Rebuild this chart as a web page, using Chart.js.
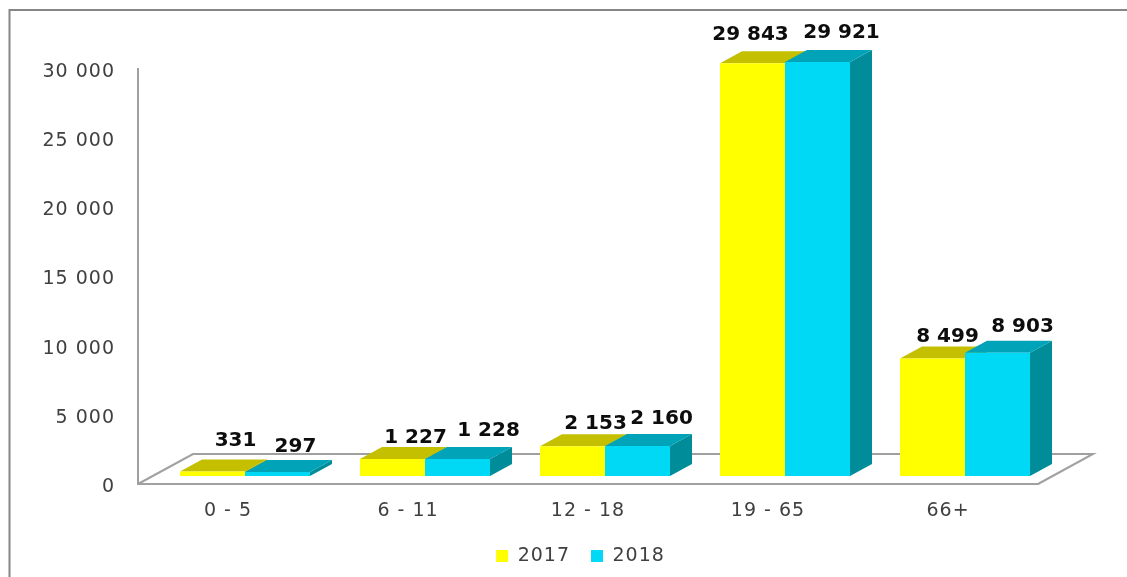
<!DOCTYPE html>
<html>
<head>
<meta charset="utf-8">
<title>Chart</title>
<style>
    html, body { margin: 0; padding: 0; background: #ffffff; overflow: hidden; }
    canvas { display: block; }
</style>
<script src="https://cdn.jsdelivr.net/npm/chart.js@4/dist/chart.umd.min.js"></script>
</head>
<body>
<canvas id="chart" width="1127" height="577"></canvas>
<script>
const categories = ['0 - 5', '6 - 11', '12 - 18', '19 - 65', '66+'];
const values2017 = [331, 1227, 2153, 29843, 8499];
const values2018 = [297, 1228, 2160, 29921, 8903];
const seriesNames = ['2017', '2018'];

const TEXT_FONT = 'DejaVu Sans';
const TEXT_SPACING = '1px'; // the reference text is stretched sideways

// 3D look: bars sit shifted on the floor, and have a small depth
const BAR_SHIFT = { x: 17, y: -8 };
const BAR_DEPTH = { x: 22, y: -12 };
const FLOOR_DEPTH = { x: 55, y: -30 };

const faces = [
    { top: '#c4c000', side: '#a5a200' },
    { top: '#00a3b8', side: '#008c99' }
];

// hand placed value labels in the reference, relative to the bar top centre
const labelNudge = [
    [[23, -31], [23, -21], [23, -22], [-2, -28], [15, -22]],
    [[18, -25], [31, -28], [24, -27], [24, -29], [25, -26]]
];

function formatNumber(val) {
    return String(val).replace(/\B(?=(\d{3})+$)/g, ' ');
}

const look3d = {
    id: 'look3d',
    beforeUpdate(chart) { chart.ctx.letterSpacing = TEXT_SPACING; },
    afterLayout(chart) {
        // the legend sits off centre and lower than the layout would put it
        chart.legend.left += 61.5;
        chart.legend.right += 61.5;
        chart.legend.top = 525.5;
    },
    beforeDraw(chart) {
        const { ctx, chartArea: a } = chart;
        ctx.letterSpacing = TEXT_SPACING;

        // outer frame, only top and left are in the picture
        ctx.save();
        ctx.strokeStyle = '#868686';
        ctx.lineWidth = 2;
        ctx.beginPath();
        ctx.moveTo(9.5, chart.height);
        ctx.lineTo(9.5, 10);
        ctx.lineTo(chart.width, 10);
        ctx.stroke();

        // floor
        ctx.strokeStyle = '#a0a0a0';
        ctx.beginPath();
        ctx.moveTo(a.left, a.bottom);
        ctx.lineTo(a.left + FLOOR_DEPTH.x, a.bottom + FLOOR_DEPTH.y);
        ctx.lineTo(a.right + FLOOR_DEPTH.x, a.bottom + FLOOR_DEPTH.y);
        ctx.lineTo(a.right, a.bottom);
        ctx.stroke();
        ctx.restore();
    },
    beforeDatasetsDraw(chart) {
        const ctx = chart.ctx;
        ctx.save();
        ctx.translate(BAR_SHIFT.x, BAR_SHIFT.y);

        // sides and tops, 2017 first so that 2018 lies over it
        faces.forEach((face, i) => {
            chart.getDatasetMeta(i).data.forEach(bar => {
                const left = bar.x - bar.width / 2;
                const right = bar.x + bar.width / 2;
                ctx.fillStyle = face.side;
                ctx.beginPath();
                ctx.moveTo(right, bar.y);
                ctx.lineTo(right + BAR_DEPTH.x, bar.y + BAR_DEPTH.y);
                ctx.lineTo(right + BAR_DEPTH.x, bar.base + BAR_DEPTH.y);
                ctx.lineTo(right, bar.base);
                ctx.closePath();
                ctx.fill();
                ctx.fillStyle = face.top;
                ctx.beginPath();
                ctx.moveTo(left, bar.y);
                ctx.lineTo(left + BAR_DEPTH.x, bar.y + BAR_DEPTH.y);
                ctx.lineTo(right + BAR_DEPTH.x, bar.y + BAR_DEPTH.y);
                ctx.lineTo(right, bar.y);
                ctx.closePath();
                ctx.fill();
            });
        });
    },
    afterDatasetsDraw(chart) {
        const ctx = chart.ctx;
        ctx.restore();

        // value labels
        ctx.save();
        ctx.letterSpacing = '0px';
        ctx.font = 'bold 20px "' + TEXT_FONT + '"';
        ctx.fillStyle = '#0d0d0d';
        ctx.textAlign = 'center';
        ctx.textBaseline = 'middle';
        chart.data.datasets.forEach((ds, i) => {
            chart.getDatasetMeta(i).data.forEach((bar, j) => {
                const nudge = labelNudge[i][j];
                ctx.fillText(formatNumber(ds.data[j]),
                    bar.x + BAR_SHIFT.x + nudge[0],
                    bar.y + BAR_SHIFT.y + nudge[1]);
            });
        });
        ctx.restore();
    }
};

new Chart(document.getElementById('chart'), {
    type: 'bar',
    data: {
        labels: categories,
        datasets: [
            { label: seriesNames[0], data: values2017, backgroundColor: '#ffff00', borderWidth: 0, clip: false },
            { label: seriesNames[1], data: values2018, backgroundColor: '#00d9f5', borderWidth: 0, clip: false }
        ]
    },
    options: {
        responsive: false,
        animation: false,
        events: [],
        devicePixelRatio: 1,
        categoryPercentage: 0.7222,
        barPercentage: 1,
        layout: { padding: { left: 0, right: 89, top: 69, bottom: -10 } },
        scales: {
            x: {
                afterFit(scale) { scale.height = 53; },
                grid: { display: false, drawTicks: false },
                border: { display: true, color: '#a0a0a0', width: 2 },
                ticks: {
                    padding: 16,
                    maxRotation: 0,
                    autoSkip: false,
                    color: '#404040',
                    font: { family: TEXT_FONT, size: 19 }
                }
            },
            y: {
                min: 0,
                max: 30000,
                afterFit(scale) { scale.width = 138; },
                grid: { display: false, drawTicks: false },
                border: { display: true, color: '#a0a0a0', width: 2 },
                ticks: {
                    stepSize: 5000,
                    padding: 23,
                    labelOffset: 3,
                    color: '#404040',
                    font: { family: TEXT_FONT, size: 19 },
                    callback: function (val) { return formatNumber(val); }
                }
            }
        },
        plugins: {
            tooltip: { enabled: false },
            legend: {
                position: 'bottom',
                labels: {
                    boxWidth: 12,
                    boxHeight: 12,
                    padding: 21,
                    color: '#404040',
                    font: { family: TEXT_FONT, size: 19 }
                }
            }
        }
    },
    plugins: [look3d]
});
</script>
</body>
</html>
